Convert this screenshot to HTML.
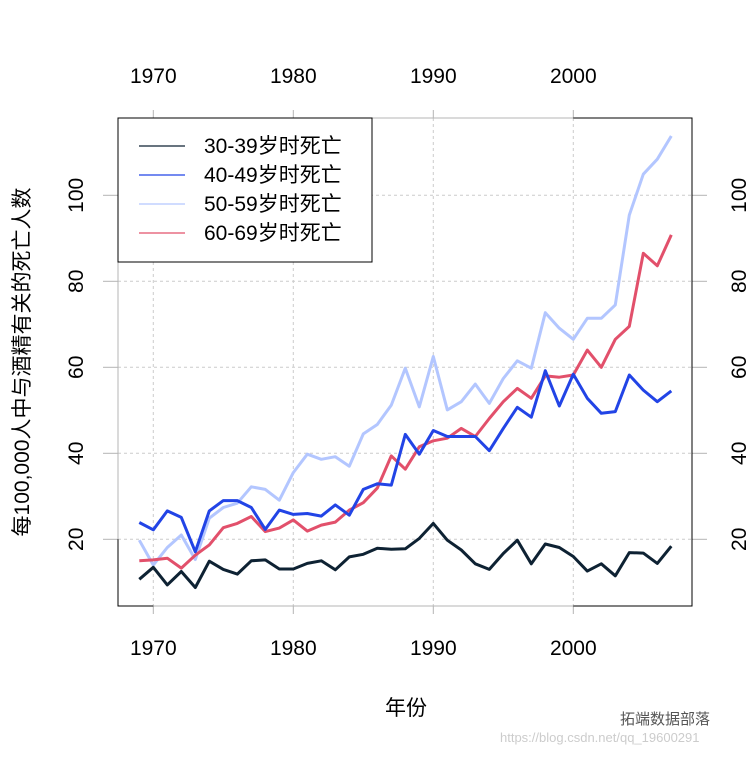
<!DOCTYPE html>
<html><head><meta charset="utf-8"><style>
body{margin:0;background:#fff}
svg text{font-family:"Liberation Sans","Noto Sans CJK SC",sans-serif;fill:#000}
</style></head><body>
<svg id="chart" width="753" height="753" xmlns="http://www.w3.org/2000/svg">
<g id="grid"></g>
<g id="axes"></g>
<g id="series"></g>
<g id="legend"></g>
<text x="406" y="715" font-size="21" text-anchor="middle">年份</text>
<text transform="translate(29,362) rotate(-90)" font-size="21" text-anchor="middle">每100,000人中与酒精有关的死亡人数</text>
<text x="620" y="724" font-size="15" style="fill:#555">拓端数据部落</text>
<text x="500" y="742" font-size="13" style="fill:#ccc">https://blog.csdn.net/qq_19600291</text>
</svg>
<script>
const years=[];for(let y=1969;y<=2007;y++)years.push(y);
const xTicks=[1970,1980,1990,2000];
const yTicks=[20,40,60,80,100];
const s3039=[10.7,13.5,9.4,12.5,8.8,14.9,13.0,11.9,15.0,15.2,13.1,13.1,14.4,15.0,12.9,15.9,16.5,17.9,17.7,17.8,20.2,23.7,19.8,17.5,14.3,13.0,16.7,19.8,14.3,18.9,18.1,16.0,12.6,14.3,11.5,16.9,16.8,14.4,18.4];
const s4049=[23.9,22.2,26.6,25.1,17.1,26.6,29.0,29.0,27.4,22.3,26.8,25.8,26.0,25.4,28.0,25.6,31.6,32.9,32.6,44.4,39.8,45.3,43.9,43.9,43.9,40.6,45.8,50.7,48.4,59.2,51.0,58.4,52.8,49.3,49.7,58.2,54.7,52.0,54.5];
const s5059=[19.8,14.0,18.1,21.0,15.3,24.9,27.4,28.4,32.2,31.6,29.1,35.5,39.8,38.6,39.2,37.0,44.5,46.7,51.2,59.8,50.8,62.5,50.1,52.0,56.1,51.6,57.4,61.5,59.8,72.7,69.1,66.5,71.4,71.4,74.5,95.4,104.9,108.4,113.8];
const s6069=[15.0,15.2,15.6,13.3,16.3,18.7,22.7,23.7,25.3,21.8,22.6,24.5,21.9,23.3,24.0,26.8,28.5,31.9,39.4,36.3,41.5,42.9,43.5,45.8,43.9,48.1,52.0,55.1,52.8,58.0,57.7,58.2,64.0,60.0,66.5,69.5,86.5,83.6,90.8];
const seriesNames=["30-39岁时死亡","40-49岁时死亡","50-59岁时死亡","60-69岁时死亡"];
const NS="http://www.w3.org/2000/svg";
const L=118,R=692,T=118,B=606;
const X=v=>153.3+(v-1970)*14;
const Y=v=>539.3-(v-20)*4.3;
function mk(tag,attrs,parent){const e=document.createElementNS(NS,tag);for(const k in attrs)e.setAttribute(k,attrs[k]);parent.appendChild(e);return e;}
const grid=document.getElementById('grid'),axes=document.getElementById('axes'),ser=document.getElementById('series'),leg=document.getElementById('legend');
xTicks.forEach(t=>{
 const g=mk('line',{x1:X(t),x2:X(t),y1:T,y2:B,stroke:'#ccc','stroke-dasharray':'3,3'},grid);
 
 
 [[B,B+8,655],[T-8,T,83]].forEach(([a,b,ty],i)=>{
  const tk=mk('line',{x1:X(t),x2:X(t),y1:a,y2:b,stroke:'#b4b4b4'},axes);
  
  
  const tx=mk('text',{x:X(t),y:ty,'font-size':21,'text-anchor':'middle'},axes);
  tx.textContent=t;
  
  
 });
});
yTicks.forEach(t=>{
 const g=mk('line',{x1:L,x2:R,y1:Y(t),y2:Y(t),stroke:'#ccc','stroke-dasharray':'3,3'},grid);
 
 
 [[L-15,L,83],[R,R+15,746]].forEach(([a,b,tx],i)=>{
  const tk=mk('line',{x1:a,x2:b,y1:Y(t),y2:Y(t),stroke:'#b4b4b4'},axes);
  
  
  const te=mk('text',{transform:`translate(${tx},${Y(t)}) rotate(-90)`,'font-size':21,'text-anchor':'middle'},axes);
  te.textContent=t;
  
  
 });
});
const box=mk('rect',{x:L,y:T,width:R-L,height:B-T,fill:'none',stroke:'#b4b4b4'},axes);


const bk=mk('path',{d:`M${L},${Y(20)}V${B}H${X(1970)} M${X(2000)},${T}H${R}V${B}H${X(2000)}`,fill:'none',stroke:'#000'},axes);


const cols=['#0e2233','#2244e6','#b3c6ff','#e2506b'];
const data=[s3039,s4049,s5059,s6069];
const order=[2,3,1,0];
order.forEach(i=>{
 const d=data[i].map((v,j)=>(j?'L':'M')+X(years[j]).toFixed(1)+','+Y(v).toFixed(1)).join('');
 const p=mk('path',{d:d,fill:'none',stroke:cols[i],'stroke-width':3,'stroke-linejoin':'round'},ser);
 
 
});
const lb=mk('rect',{x:L,y:T,width:254,height:144,fill:'#fff',stroke:'#000'},leg);


seriesNames.forEach((n,i)=>{
 const y=146+i*29;
 const ln=mk('line',{x1:139,x2:185,y1:y,y2:y,stroke:cols[i],'stroke-width':1.3},leg);
 
 
 const t=mk('text',{x:204,y:y+7,'font-size':21},leg);
 t.textContent=n;
 
 
});
</script>
</body></html>
